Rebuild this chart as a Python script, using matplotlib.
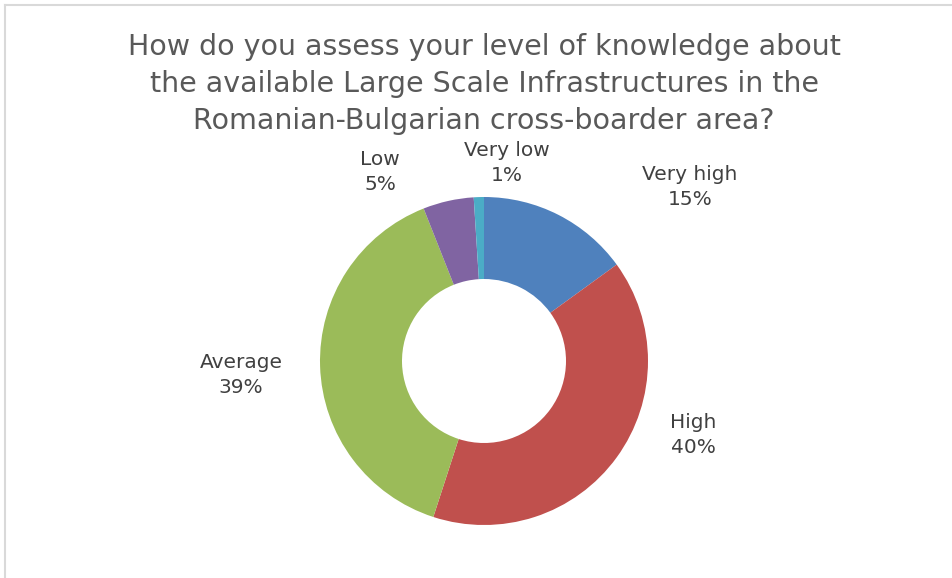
import matplotlib.pyplot as plt
from matplotlib.lines import Line2D

# data
labels = ['Very high', 'High', 'Average', 'Low', 'Very low']
values = [15, 40, 39, 5, 1]
colors = ['#4F81BD', '#C0504D', '#9BBB59', '#8064A2', '#4BACC6']

title = ('How do you assess your level of knowledge about\n'
         'the available Large Scale Infrastructures in the\n'
         'Romanian-Bulgarian cross-boarder area?')

W, H = 952, 578
fig = plt.figure(figsize=(W / 100, H / 100), dpi=100)
ax = fig.add_axes([0, 0, 1, 1])
ax.set_xlim(0, W)
ax.set_ylim(0, H)
ax.set_aspect('equal')
ax.axis('off')

# pie in pixel space (y measured from top in the picture)
cx, cy, r = 484, 361, 164
ax.pie(values, colors=colors, startangle=90, counterclock=False,
       center=(cx, H - cy), radius=r,
       wedgeprops=dict(width=r * 0.5, edgecolor='none'))
ax.set_xlim(0, W)
ax.set_ylim(0, H)

# label positions (pixel centres, like the excel best-fit)
label_pos = [(690, 187), (693, 435), (241, 375), (380, 172), (507, 163)]
for lab, v, (x, y) in zip(labels, values, label_pos):
    ax.text(x, H - y, f'{lab}\n{v}%', ha='center', va='center',
            fontsize=14.5, color='#404040', family='DejaVu Sans',
            linespacing=1.4)

ax.text(W / 2 + 8, H - 84, title, ha='center', va='center', fontsize=20.5,
        color='#595959', family='DejaVu Sans', linespacing=1.42)

# chart border (only top and left show)
fig.add_artist(Line2D([4.5 / W, 1], [1 - 4.5 / H, 1 - 4.5 / H],
                      color='#D9D9D9', lw=1.5, transform=fig.transFigure))
fig.add_artist(Line2D([4.5 / W, 4.5 / W], [0, 1 - 4.5 / H],
                      color='#D9D9D9', lw=1.5, transform=fig.transFigure))

fig.savefig('out.png', dpi=100)
